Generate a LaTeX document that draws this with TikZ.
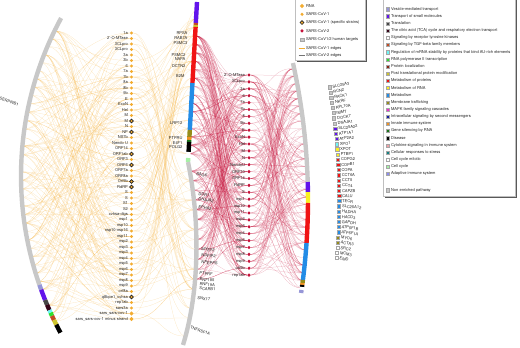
\documentclass[tikz,border=0pt]{standalone}
\usepackage{fontspec}
\setmainfont{TeX Gyre Heros}
\usepackage{color}
\usetikzlibrary{calc,shapes.geometric,shadows}

\definecolor{covone}{RGB}{243,172,48}
\definecolor{covtwo}{RGB}{196,18,58}
\definecolor{nonenr}{RGB}{200,200,200}
\definecolor{pvesicle}{RGB}{150,150,215}
\definecolor{ptransport}{RGB}{98,20,235}
\definecolor{ptranslation}{RGB}{70,70,70}
\definecolor{ptca}{RGB}{55,5,25}
\definecolor{prtk}{RGB}{255,255,255}
\definecolor{ptgf}{RGB}{195,75,35}
\definecolor{pmrna}{RGB}{110,245,245}
\definecolor{prnapol}{RGB}{45,225,45}
\definecolor{ploc}{RGB}{135,35,20}
\definecolor{pptm}{RGB}{205,195,45}
\definecolor{pmetprot}{RGB}{240,20,20}
\definecolor{pmetrna}{RGB}{250,240,35}
\definecolor{pmetab}{RGB}{35,140,230}
\definecolor{pmembr}{RGB}{150,140,25}
\definecolor{pmapk}{RGB}{240,40,210}
\definecolor{psecond}{RGB}{20,30,160}
\definecolor{pinnate}{RGB}{240,145,35}
\definecolor{psilence}{RGB}{25,115,25}
\definecolor{pdisease}{RGB}{0,0,0}
\definecolor{pcytokine}{RGB}{240,160,165}
\definecolor{pstress}{RGB}{20,130,130}
\definecolor{pmitotic}{RGB}{255,255,255}
\definecolor{pcycle}{RGB}{165,240,165}
\definecolor{padaptive}{RGB}{140,140,240}

\pgfdeclarelayer{edges}
\pgfsetlayers{edges,main}

\begin{document}
\begin{tikzpicture}[x=1pt,y=-1pt,
  lab/.style={font=\fontsize{4}{4.5}\selectfont,inner sep=0.4pt,text=black!85},
  cov1/.style={circle,fill=covone,inner sep=0pt,minimum size=3.4pt},
  strain/.style={cov1,draw=black!85,line width=0.7pt,minimum size=3.8pt},
  rna/.style={diamond,fill=covone,inner sep=0pt,minimum size=4.4pt},
  cov2/.style={circle,fill=covtwo,inner sep=0pt,minimum size=3.4pt},
  target/.style={rectangle,fill=#1,draw=black!35,line width=0.15pt,inner sep=0pt,minimum size=3.2pt},
  keysquare/.style={target=nonenr},
  hiveaxis/.style={line width=4.4pt,draw=#1},
  cov1edge/.style={draw=covone,draw opacity=0.3,line width=0.25pt},
  cov2edge/.style={draw=covtwo,draw opacity=0.3,line width=0.25pt},
  legbox/.style={draw=black!25,fill=white,line width=0.4pt,inner sep=0pt,
    drop shadow={shadow xshift=1.3pt,shadow yshift=-1.3pt,fill=black!65,opacity=1}}]
\useasboundingbox (0,0) rectangle (520,348);
\coordinate (lctr) at (352,176);
\coordinate (rctr) at (-325,200);

% SARS-CoV-1 proteins
\foreach \lab [count=\i] in {1a,2'-O-MTase,3CLpro,3CLpro,3a,3b,6,7a,7b,8a,8b,9b,E,ExoN,Hel,M,M,N,NP,NS7b,Nendo U,ORF14,ORF1ab,ORF3,ORF6,ORF7a,ORF8a,Orf9b,RdRP,S,S,S1,S2,cvhsa-digs,nsp1,nsp10,nsp10-nsp16,nsp11,nsp2,nsp3,nsp3,nsp4,nsp5,nsp6,nsp7,nsp8,nsp9,orf8a,q8bpe1\_cvhsa,rep1ab,sars3a,sars\_sars-cov-1,sars\_sars-cov-1 minus strand} {
  \ifnum\i>51 \def\shp{rna}\else\def\shp{cov1}\fi
  \node[\shp] (cv1-\i) at (131.5,{33+5.5*(\i-1)}) {};
  \node[lab,anchor=east] (cv1l-\i) at (128.5,{33+5.5*(\i-1)}) {\lab};
}
\foreach \i in {17,19,23,25,28,29,49}
  \node[strain] (ring-\i) at (cv1-\i) {};

% SARS-CoV-2 proteins
\foreach \lab [count=\i] in {2'-O-MTase,3CLpro,3a,6,7a,7b,8,9b,E,ExoN,Hel,M,N,NendoU,ORF10,ORF14,RdRP,S,nsp1,nsp10,nsp11,nsp2,nsp3,nsp4,nsp6,nsp7,nsp8,nsp9,orf9b,rep1ab} {
  \node[cov2] (cv2-\i) at (249,{75+6.9*(\i-1)}) {};
  \node[lab,anchor=east] (cv2l-\i) at (245.5,{75+6.9*(\i-1)}) {\lab};
}

% shared human targets
\foreach \lab/\xx/\yy/\anc/\rot [count=\i] in {RPSA/188/33/east/0,RAB7A/188/38.5/east/0,PSMC3/188/43.5/east/0,PSMC2/186/55/east/0,NAPA/186/59.5/east/0,DCTN2/186/66/east/0,B2M/185/76/east/0,LRP12/183/123/east/0,PTPRU/183/138.5/east/0,E4F1/183/143/east/0,POLG2/183/147.5/east/0,BAG6/196/174/west/-8,DDR1/198/194/west/-8,DNAJA2/198/199/west/-8,EPHA2/198/207/west/-8,MYEF2/201/249/west/-6,NDFIP2/201/255/west/-6,NPEPPS/201/262/west/-6,PTPRF/199/273/west/-6,RNF185/199/279.5/west/-4,RNF19A/199/284/west/-4,SCARB1/199/288.5/west/-4,SNX17/197/298/west/-6,TNFRSF1A/190/327/west/-20}
  \node[lab,anchor=\anc,rotate=\rot] (mt-\i) at (\xx,\yy) {\lab};
\node[lab,anchor=north west,rotate=-20] (serpin) at (0,96) {SERPINB1};

% SARS-CoV-2 specific targets
\foreach \lab/\c [count=\i] in {SLC25A3/nonenr,RCN2/nonenr,RACK1/nonenr,NKRF/nonenr,RPL10A/nonenr,IMMT/nonenr,DOCK7/nonenr,DNAJA1/nonenr,SLC25A22/ptransport,ATP1A1/ptransport,ATP2A2/ptransport,XPO1/pmrna,XPOT/pmetrna,PTBP1/pmetrna,COPG2/pmetprot,COPB1/pmetprot,COPA/pmetprot,CCT6A/pmetprot,CCT5/pmetprot,CCT4/pmetprot,CAPZB/pmetprot,CALU/pmetprot,TECR/pmetab,SLC25A12/pmetab,HADHA/pmetab,HACD3/pmetab,GAPDH/pmetab,ATP5F1B/pmetab,ATP5F1A/pmetab,MYO6/pmembr,ACTR3/pmembr,SRC2/pmitotic,MCM3/pmitotic,EMD/pmitotic} {
  \pgfmathsetmacro\yy{87+5.18*(\i-1)}
  \pgfmathsetmacro\xx{-325+664*sqrt(1-((\yy-200)/664)^2)}
  \pgfmathsetmacro\rot{12-24*(\i-1)/33}
  \node[target=\c] (tg-\i) at (\xx,\yy) {};
  \node[lab,anchor=west,rotate=\rot] (tgl-\i) at ($(tg-\i.east)+(1,0)$) {\lab};
}

% anchor points on the three axes
\coordinate (mtop) at (197,2);
\coordinate (mjoint) at (188,162);
\coordinate (mbot) at (183,345);
\path (mtop) -- (mjoint) foreach \k [evaluate=\k as \p using \k/19] in {1,...,18} {coordinate[pos=\p] (mb-\k)};
\path (mjoint) .. controls (200,220) and (200,290) .. (mbot) foreach \k [evaluate=\k as \p using (\k-18)/19] in {19,...,36} {coordinate[pos=\p] (mb-\k)};
\foreach \k [evaluate=\k as \ang using 206-52*(\k-1)/35] in {1,...,36}
  \coordinate (la-\k) at ($(lctr)+(\ang:331)$);
\foreach \k [evaluate=\k as \ang using -12+20*(\k-1)/29] in {1,...,30}
  \coordinate (rb-\k) at ($(rctr)+(\ang:633)$);

\begin{pgfonlayer}{edges}
\pgfmathsetseed{2020}
\foreach \e in {1,...,200} {
  \pgfmathrandominteger{\a}{1}{53}\pgfmathrandominteger{\b}{1}{36}
  \draw[cov1edge] (cv1-\a) .. controls +(-45,0) and +(25,0) .. (la-\b);
}
\foreach \e in {1,...,120} {
  \pgfmathrandominteger{\a}{1}{53}\pgfmathrandominteger{\b}{1}{36}
  \draw[cov1edge] (cv1-\a) .. controls +(30,0) and +(-25,0) .. (mb-\b);
}
\foreach \e in {1,...,300} {
  \pgfmathrandominteger{\a}{1}{30}\pgfmathrandominteger{\b}{4}{30}
  \draw[cov2edge] (cv2-\a) .. controls +(-30,0) and +(25,0) .. (mb-\b);
}
\foreach \e in {1,...,190} {
  \pgfmathrandominteger{\a}{1}{30}\pgfmathrandominteger{\b}{1}{30}
  \draw[cov2edge] (cv2-\a) .. controls +(25,0) and +(-25,0) .. (rb-\b);
}
\end{pgfonlayer}

% axes
\foreach \sa/\ea/\c in {208.5/160.8/nonenr,160.8/159.9/pvesicle,159.9/158/ptransport,158/157.1/ptranslation,157.1/156.1/ptca,156.1/155.6/pmrna,155.6/155/prnapol,155/154.2/ptgf,154.2/153.3/pptm,153.3/151.7/pdisease,151.7/150.7/pmitotic}
  \draw[hiveaxis=\c] ($(lctr)+(\sa:331)$) arc[start angle=\sa,end angle=\ea,radius=331];
\foreach \ya/\yb/\c in {2/23/ptransport,23/25/ptgf,25/27/pptm,27/83/pmetprot,83/130/pmetab,130/137/pmembr,137/140/pinnate,140/142/psilence,142/152/pdisease,152/158/pmitotic,158/162/pcycle}
  \draw[hiveaxis=\c] ({197-9*(\ya-2)/160},\ya) -- ({197-9*(\yb-2)/160},\yb);
\draw[hiveaxis=nonenr] (mjoint) .. controls (200,220) and (200,290) .. (mbot);
\foreach \ya/\yb/\c in {63/182/nonenr,182/192/ptransport,192/203/pmetrna,203/243/pmetprot,243/280/pmetab,280/283/pmembr,283/285/pinnate,285/287/pdisease,287/290/pmitotic,290/293/pvesicle} {
  \pgfmathsetmacro\sa{asin((\ya-200)/633)}
  \pgfmathsetmacro\ea{asin((\yb-200)/633)}
  \draw[hiveaxis=\c] ($(rctr)+(\sa:633)$) arc[start angle=\sa,end angle=\ea,radius=633];
}

% legends
\node[legbox,anchor=north west,minimum width=70pt,minimum height=61pt] (key) at (295,-1) {};
\foreach \sty/\txt [count=\i] in {rna/RNA,cov1/SARS-CoV-1,strain/SARS-CoV-1 (specific strains),cov2/SARS-CoV-2,keysquare/{SARS-CoV1/2 human targets}} {
  \node[\sty] (k-\i) at (302,{6+8.3*(\i-1)}) {};
  \node[lab,anchor=west] (kl-\i) at (305.5,{6+8.3*(\i-1)}) {\txt};
}
\coordinate (k-e1a) at (298.5,48); \coordinate (k-e1b) at (304.5,48);
\coordinate (k-e2a) at (298.5,55.5); \coordinate (k-e2b) at (304.5,55.5);
\draw[covone,line width=0.5pt] (k-e1a) -- (k-e1b);
\draw[black!55,line width=0.5pt] (k-e2a) -- (k-e2b);
\node[lab,anchor=west] (kl-e1) at (305.5,48) {SARS-CoV-1 edges};
\node[lab,anchor=west] (kl-e2) at (305.5,55.5) {SARS-CoV-2 edges};

\node[legbox,anchor=north west,minimum width=132pt,minimum height=197pt] (paths) at (383,-1) {};
\foreach \c/\txt [count=\i] in {pvesicle/Vesicle-mediated transport,ptransport/Transport of small molecules,ptranslation/Translation,ptca/The citric acid (TCA) cycle and respiratory electron transport,prtk/Signaling by receptor tyrosine kinases,ptgf/Signaling by TGF-beta family members,pmrna/Regulation of mRNA stability by proteins that bind AU-rich elements,prnapol/RNA polymerase II transcription,ploc/Protein localization,pptm/Post translational protein modification,pmetprot/Metabolism of proteins,pmetrna/Metabolism of RNA,pmetab/Metabolism,pmembr/Membrane trafficking,pmapk/MAPK family signaling cascades,psecond/Intracellular signaling by second messengers,pinnate/Innate immune system,psilence/Gene silencing by RNA,pdisease/Disease,pcytokine/Cytokine signaling in immune system,pstress/Cellular responses to stress,pmitotic/Cell cycle mitotic,pcycle/Cell cycle,padaptive/Adaptive immune system} {
  \node[target=\c] (pk-\i) at (387.5,{9+7.17*(\i-1)}) {};
  \node[lab,anchor=west] (pkl-\i) at (390.5,{9+7.17*(\i-1)}) {\txt};
}
\node[target=nonenr] (pk-none) at (387.5,190) {};
\node[lab,anchor=west] (pkl-none) at (390.5,190) {Non enriched pathway};
\end{tikzpicture}
\end{document}
